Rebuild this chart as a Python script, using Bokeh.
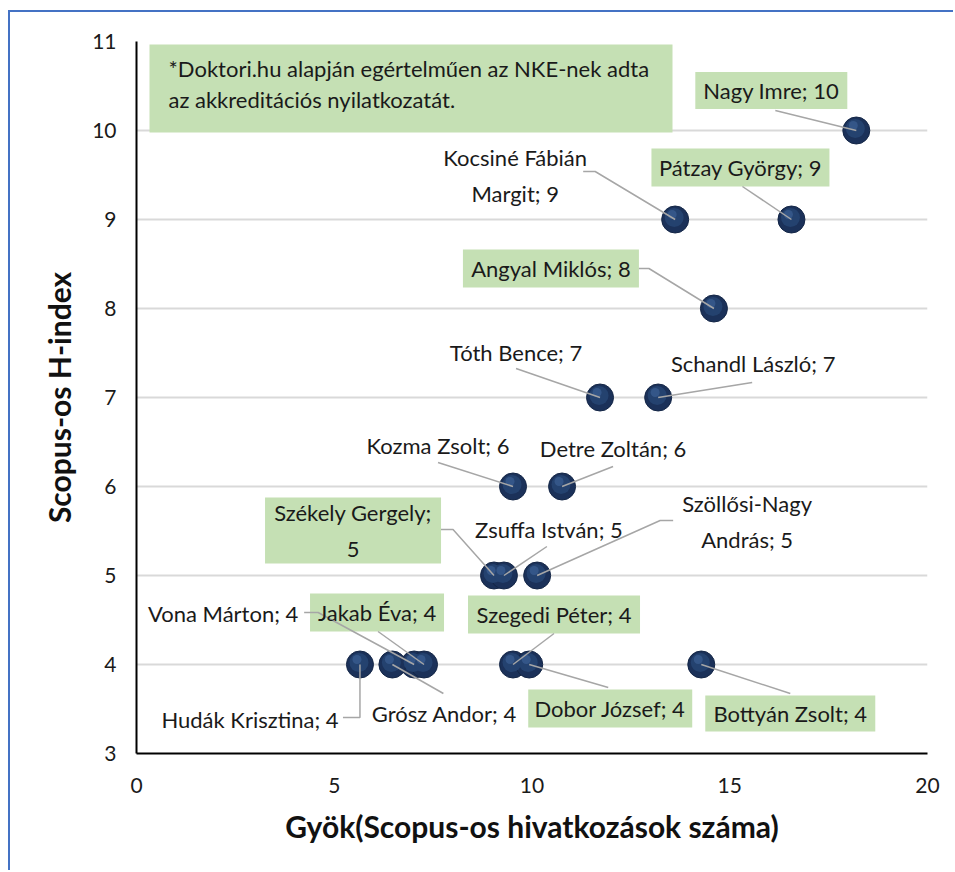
from bokeh.plotting import figure
from bokeh.models import Range1d, FixedTicker
from bokeh.core.properties import value
from bokeh.embed import file_html
from bokeh.resources import INLINE

# ---------------- data ----------------
names = ["Nagy Imre", "Kocsiné Fábián Margit", "Pátzay György", "Angyal Miklós",
         "Tóth Bence", "Schandl László", "Kozma Zsolt", "Detre Zoltán",
         "Székely Gergely", "Zsuffa István", "Szöllősi-Nagy András",
         "Vona Márton", "Jakab Éva", "Szegedi Péter", "Hudák Krisztina",
         "Grósz Andor", "Dobor József", "Bottyán Zsolt"]
gyok = [18.2, 13.62, 16.56, 14.6, 11.72, 13.19, 9.52, 10.76, 9.04, 9.29, 10.13,
        7.02, 7.27, 9.52, 5.65, 6.47, 9.93, 14.28]
h_index = [10, 9, 9, 8, 7, 7, 6, 6, 5, 5, 5, 4, 4, 4, 4, 4, 4, 4]
x_ticks = [0, 5, 10, 15, 20]
y_ticks = [3, 4, 5, 6, 7, 8, 9, 10, 11]
x_title = "Gyök(Scopus-os hivatkozások száma)"
y_title = "Scopus-os H-index"
note_lines = ["*Doktori.hu alapján egértelműen az NKE-nek adta",
              "az akkreditációs nyilatkozatát."]

# ---------------- layout (screen-pixel offsets from each point) ----------------
FONT = "Lato"
GREEN = "#c5e0b4"
W, H = 945, 860
ML, MR, MT, MB = 126, 28, 29, 119
FW, FH = W - ML - MR, H - MT - MB
x0, x1, y0, y1 = 0, 20, 3, 11
sx = FW / (x1 - x0)
sy = FH / (y1 - y0)

breaks = {"Kocsiné Fábián Margit": "Kocsiné Fábián",
          "Székely Gergely": "Székely Gergely;",
          "Szöllősi-Nagy András": "Szöllősi-Nagy"}

lay = {
    "Nagy Imre": ((-85, -40), (152, 37), [(-81, -20)]),
    "Kocsiné Fábián Margit": ((-160, -44), None, [(-92, -48), (-80, -48)]),
    "Pátzay György": ((-51, -52), (178, 38), [(-49, -33)]),
    "Angyal Miklós": ((-163, -40), (176, 38), [(-75, -40), (-65, -40)]),
    "Tóth Bence": ((-84, -45), None, [(-84, -29)]),
    "Schandl László": ((95, -34), None, [(94, -15)]),
    "Kozma Zsolt": ((-75, -41), None, [(-75, -24)]),
    "Detre Zoltán": ((51, -38), None, [(51, -20)]),
    "Székely Gergely": ((-141, -45), (176, 66), [(-53, -46), (-41, -46)]),
    "Zsuffa István": ((45, -46), None, [(43, -29)]),
    "Szöllősi-Nagy András": ((210, -54), None, [(136, -55), (123, -55)]),
    "Vona Márton": ((-191, -51), None, [(-110, -52), (-96, -52)]),
    "Jakab Éva": ((-47, -52), (134, 38), [(-46, -33)]),
    "Szegedi Péter": ((41, -50), (172, 38), [(41, -31)]),
    "Hudák Krisztina": ((-110, 55), None, [(-17, 53), (0, 53)]),
    "Grósz Andor": ((52, 49), None, [(51, 29)]),
    "Dobor József": ((81, 44), (164, 38), [(79, 23)]),
    "Bottyán Zsolt": ((89, 49), (170, 36), [(89, 29)]),
}

p = figure(width=W, height=H, output_backend="svg", toolbar_location=None,
           x_range=Range1d(x0, x1), y_range=Range1d(y0, y1),
           min_border_left=ML, min_border_right=MR, min_border_top=MT,
           min_border_bottom=MB)
p.styles = {"border-left": "2px solid #4472c4", "border-top": "2px solid #4472c4",
            "margin-top": "10px", "margin-left": "8px"}
p.outline_line_color = None
p.background_fill_color = "white"
p.border_fill_color = "white"

p.xgrid.visible = False
p.ygrid.grid_line_color = "#d9d9d9"
p.ygrid.grid_line_width = 2
p.xaxis.ticker = FixedTicker(ticks=x_ticks)
p.yaxis.ticker = FixedTicker(ticks=y_ticks)
for ax in (p.xaxis[0], p.yaxis[0]):
    ax.axis_line_color = "black"
    ax.axis_line_width = 2
    ax.major_tick_line_color = None
    ax.minor_tick_line_color = None
    ax.major_tick_out = 0
    ax.major_tick_in = 0
    ax.minor_tick_out = 0
    ax.major_label_text_font = FONT
    ax.major_label_text_font_size = "21px"
    ax.major_label_text_color = "#1a1a1a"
    ax.axis_label_text_font = FONT
    ax.axis_label_text_font_style = "bold"
    ax.axis_label_text_font_size = "30px"
    ax.axis_label_text_color = "#111111"
p.xaxis.axis_label = x_title
p.yaxis.axis_label = y_title
p.xaxis.major_label_standoff = 24
p.yaxis.major_label_standoff = 20
p.xaxis.axis_label_standoff = 12
p.yaxis.axis_label_standoff = 12

# note box (top-left)
nx, ny = (410.5 - 136) / sx, y1 - (88 - 41) / sy
p.rect(x=[nx], y=[ny], width=523, height=88, width_units="screen",
       height_units="screen", fill_color=GREEN, line_color=None)
p.text(x=[(168 - 136) / sx] * 2,
       y=[y1 - (68 - 41) / sy, y1 - (99 - 41) / sy], text=note_lines,
       text_font=value(FONT), text_font_size=value("22px"), text_color="#1a1a1a",
       text_align="left", text_baseline="middle")

# points (sphere look)
p.scatter(gyok, h_index, size=27, fill_color="#1b3159", line_color="#142646",
          line_width=1)
p.scatter([x - 1 / sx for x in gyok], [y + 2 / sy for y in h_index], size=19,
          fill_color="#24426f", line_color=None)
p.scatter([x - 3 / sx for x in gyok], [y + 5 / sy for y in h_index], size=9,
          fill_color="#4a6ea6", line_color=None, fill_alpha=0.45)

# boxes, leader lines, label texts
bx, by, bw, bh = [], [], [], []
lxs, lys = [], []
tx, ty, tt = [], [], []
for n, x, y in zip(names, gyok, h_index):
    (dx, dy), box, pts = lay[n]
    cx, cy = x + dx / sx, y - dy / sy
    if box:
        bx.append(cx); by.append(cy); bw.append(box[0]); bh.append(box[1])
    lxs.append([x + a / sx for a, b in pts] + [x])
    lys.append([y - b / sy for a, b in pts] + [y])
    txt = f"{n}; {y}"
    if n in breaks:
        pre = breaks[n]
        txt = txt.replace(pre + " ", pre + "\n", 1)
    tx.append(cx); ty.append(cy); tt.append(txt)

p.rect(x=bx, y=by, width=bw, height=bh, width_units="screen",
       height_units="screen", fill_color=GREEN, line_color=None)
p.multi_line(lxs, lys, line_color="#a6a6a6", line_width=1.5)
p.text(x=tx, y=ty, text=tt, text_font=value(FONT), text_font_size=value("22px"),
       text_color="#1a1a1a", text_align="center", text_baseline="middle",
       text_line_height=1.3)

open("out.html", "w").write(file_html(p, INLINE))
